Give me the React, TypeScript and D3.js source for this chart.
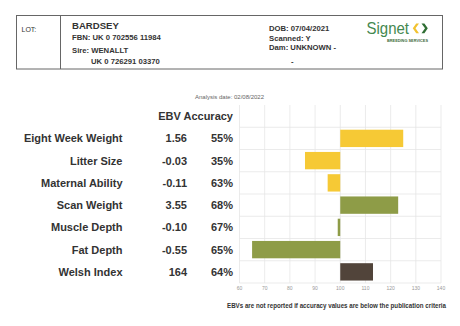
import React from "react";
import * as d3 from "d3";

const traits = ["Eight Week Weight", "Litter Size", "Maternal Ability", "Scan Weight", "Muscle Depth", "Fat Depth", "Welsh Index"];
const ebvValues = ["1.56", "-0.03", "-0.11", "3.55", "-0.10", "-0.55", "164"];
const accuracies = ["55%", "35%", "63%", "68%", "67%", "65%", "64%"];
const indexValues = [125, 86, 95, 123, 99, 65, 113];
const traitGroups = ["maternal", "maternal", "maternal", "carcass", "carcass", "carcass", "index"];
const xTicks = [60, 70, 80, 90, 100, 110, 120, 130, 140];

const FONT = "Arial, 'Liberation Sans', Helvetica, sans-serif";

export default function App() {
  const x = d3.scaleLinear().domain([60, 140]).range([239.5, 441]);
  const rows = ["__header__", ...traits];
  const y = d3.scaleBand<string>().domain(rows).range([105, 283]).padding(0);
  const step = y.step();
  const color = d3
    .scaleOrdinal<string, string>()
    .domain(["maternal", "carcass", "index"])
    .range(["#f6c935", "#8e9c47", "#51443a"]);
  const textCol = "#333";

  return (
    <svg
      width={460}
      height={326}
      style={{ position: "fixed", left: 0, top: 0, background: "#fff" }}
      fontFamily={FONT}
    >
      <rect width={460} height={326} fill="#fff" />
      {/* Header box */}
      <rect x={16.5} y={15.5} width={426} height={53.5} fill="none" stroke="#666" strokeWidth={1} />
      <line x1={60.5} x2={60.5} y1={15.5} y2={69} stroke="#666" strokeWidth={1} />
      <text x={21.5} y={31.5} fontSize={7} fill={textCol}>LOT:</text>
      <text x={72} y={28.5} fontSize={9.6} fontWeight="bold" fill={textCol}>BARDSEY</text>
      <text x={72} y={40} fontSize={7.7} fontWeight="bold" fill={textCol}>FBN: UK 0 702556 11984</text>
      <text x={72} y={53} fontSize={7.7} fontWeight="bold" fill={textCol}>Sire: WENALLT</text>
      <text x={91} y={64} fontSize={7.7} fontWeight="bold" fill={textCol}>UK 0 726291 03370</text>
      <text x={269} y={31} fontSize={7.7} fontWeight="bold" fill={textCol}>DOB: 07/04/2021</text>
      <text x={269} y={40.5} fontSize={7.7} fontWeight="bold" fill={textCol}>Scanned: Y</text>
      <text x={269} y={49.5} fontSize={7.7} fontWeight="bold" fill={textCol}>Dam: UNKNOWN -</text>
      <text x={291} y={64} fontSize={7.7} fontWeight="bold" fill={textCol}>-</text>
      {/* Logo */}
      <text x={366.5} y={34.3} fontSize={17} fill="#44884f" textLength={42.5} lengthAdjust="spacingAndGlyphs">Signet</text>
      <path d="M419,23.5 L415.5,28.3 L419,33.2 L416.2,33.2 L412.8,28.3 L416.2,23.5 Z" fill="#f2c230" />
      <path d="M421.5,23.5 L425,28.3 L421.5,33.2 L424.4,33.2 L427.8,28.3 L424.4,23.5 Z" fill="#2f6e33" />
      <text x={387} y={42.4} fontSize={3.4} fontWeight="bold" fill="#3d6a3a" textLength={41} lengthAdjust="spacingAndGlyphs">BREEDING SERVICES</text>

      {/* Analysis date */}
      <text x={229.5} y={99} fontSize={6} fill="#666" textAnchor="middle">Analysis date: 02/08/2022</text>

      {/* Grid */}
      {xTicks.map((t) => (
        <line key={"v" + t} x1={x(t)} x2={x(t)} y1={105} y2={283} stroke="#e6e6e6" strokeWidth={0.8} />
      ))}
      {traits.map((t) => (
        <line key={"h" + t} x1={x(60)} x2={x(140)} y1={(y(t) as number)} y2={(y(t) as number)} stroke="#e6e6e6" strokeWidth={0.8} />
      ))}
      <line x1={x(60)} x2={x(140)} y1={283} y2={283} stroke="#e6e6e6" strokeWidth={0.8} />

      {/* Bars */}
      {traits.map((t, i) => {
        const v = indexValues[i];
        const x0 = x(Math.min(100, v));
        const x1 = x(Math.max(100, v));
        return (
          <rect
            key={"b" + t}
            x={x0}
            y={(y(t) as number) + step * 0.11}
            width={Math.max(x1 - x0, 0.5)}
            height={step * 0.78}
            fill={color(traitGroups[i])}
          />
        );
      })}

      {/* Tick labels */}
      {xTicks.map((t) => (
        <text key={"tl" + t} x={x(t)} y={290} fontSize={5} fill="#999" textAnchor="middle">{t}</text>
      ))}

      {/* Table header */}
      <text x={233} y={120} fontSize={11} fontWeight="bold" fill={textCol} textAnchor="end">EBV Accuracy</text>

      {/* Rows */}
      {traits.map((t, i) => {
        const cy = (y(t) as number) + step / 2 + 4;
        return (
          <g key={"r" + t}>
            <text x={122.5} y={cy} fontSize={11} fontWeight="bold" fill={textCol} textAnchor="end">{t}</text>
            <text x={187} y={cy} fontSize={11} fontWeight="bold" fill={textCol} textAnchor="end">{ebvValues[i]}</text>
            <text x={233} y={cy} fontSize={11} fontWeight="bold" fill={textCol} textAnchor="end">{accuracies[i]}</text>
          </g>
        );
      })}

      {/* Footer */}
      <text x={446} y={307.5} fontSize={6.3} fontWeight="bold" fill={textCol} textAnchor="end" textLength={219} lengthAdjust="spacingAndGlyphs">
        EBVs are not reported if accuracy values are below the publication criteria
      </text>
    </svg>
  );
}
